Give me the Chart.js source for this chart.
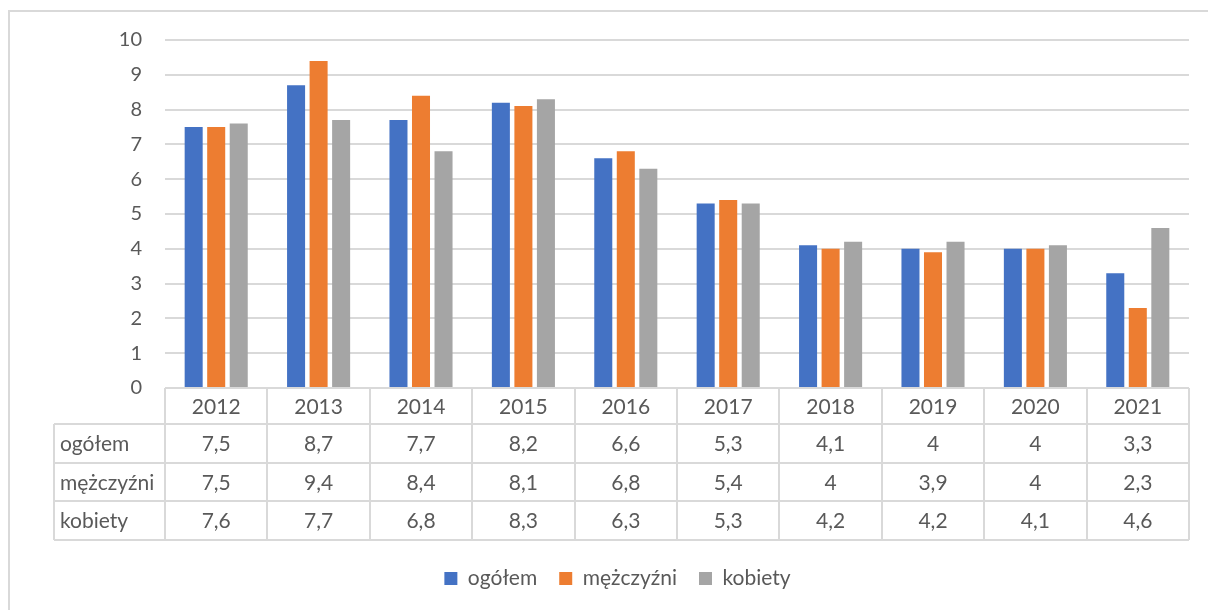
<!DOCTYPE html>
<html>
<head>
<meta charset="utf-8">
<script src="https://cdn.jsdelivr.net/npm/chart.js@4.4.1/dist/chart.umd.min.js"></script>
<style>
html,body{margin:0;padding:0;background:#fff;}
#wrap{width:1208px;height:610px;position:relative;}
</style>
</head>
<body>
<div id="wrap"><canvas id="c" width="1208" height="610"></canvas></div>
<script>
const categories = ['2012','2013','2014','2015','2016','2017','2018','2019','2020','2021'];
const seriesNames = ['ogółem','mężczyźni','kobiety'];
const ogolem = [7.5, 8.7, 7.7, 8.2, 6.6, 5.3, 4.1, 4.0, 4.0, 3.3];
const mezczyzni = [7.5, 9.4, 8.4, 8.1, 6.8, 5.4, 4.0, 3.9, 4.0, 2.3];
const kobiety = [7.6, 7.7, 6.8, 8.3, 6.3, 5.3, 4.2, 4.2, 4.1, 4.6];
const yTicks = [0,1,2,3,4,5,6,7,8,9,10];
const colors = ['#4472C4','#ED7D31','#A5A5A5'];
const seriesValues = [ogolem, mezczyzni, kobiety];

const FONT = 'Lato, "Open Sans", sans-serif';
const TEXT = '#595959';
const LINE = '#d9d9d9';

function fmt(v){ return String(v).replace('.', ','); }

const legendShift = {
  id: 'legendShift',
  afterLayout(chart) {
    if (chart.legend) { chart.legend.left += 23; chart.legend.right += 23; }
  }
};

const tablePlugin = {
  id: 'dataTable',
  afterDraw(chart) {
    const ctx = chart.ctx;
    const xs = chart.scales.x;
    const ca = chart.chartArea;
    const n = categories.length;
    const colW = (ca.right - ca.left) / n;
    const top = ca.bottom;
    const headerH = 36;
    const rowH = 38.5;
    const tableLeft = 54;
    ctx.save();
    ctx.strokeStyle = LINE;
    ctx.lineWidth = 2;
    ctx.beginPath();
    ctx.moveTo(9, 610); ctx.lineTo(9, 11); ctx.lineTo(1208, 11);
    ctx.stroke();
    ctx.beginPath();
    ctx.moveTo(ca.left, top); ctx.lineTo(ca.right, top);
    for (let r = 0; r <= seriesNames.length; r++) {
      const y = Math.round(top + headerH + r * rowH);
      ctx.moveTo(tableLeft, y); ctx.lineTo(ca.right, y);
    }
    const bottom = Math.round(top + headerH + seriesNames.length * rowH);
    ctx.moveTo(tableLeft, top + headerH); ctx.lineTo(tableLeft, bottom);
    for (let i = 0; i <= n; i++) {
      const x = Math.round(xs.getPixelForValue(Math.min(i, n - 1)) + (i === n ? colW / 2 : -colW / 2));
      ctx.moveTo(x, top); ctx.lineTo(x, bottom);
    }
    ctx.stroke();
    ctx.fillStyle = TEXT;
    ctx.font = '21px ' + FONT;
    ctx.textBaseline = 'middle';
    ctx.textAlign = 'center';
    categories.forEach((c, i) => {
      ctx.fillText(c, xs.getPixelForValue(i), top + headerH / 2 + 1);
    });
    seriesNames.forEach((name, r) => {
      const yc = top + headerH + r * rowH + rowH / 2 + 1;
      ctx.textAlign = 'left';
      ctx.fillText(name, 60, yc);
      ctx.textAlign = 'center';
      seriesValues[r].forEach((v, i) => {
        ctx.fillText(fmt(v), xs.getPixelForValue(i), yc);
      });
    });
    ctx.restore();
  }
};

new Chart(document.getElementById('c'), {
  type: 'bar',
  data: {
    labels: categories,
    datasets: seriesNames.map((name, k) => ({
      label: name,
      data: seriesValues[k],
      backgroundColor: colors[k],
      borderWidth: 0,
      categoryPercentage: 0.66,
      barPercentage: 0.8
    }))
  },
  options: {
    responsive: false,
    animation: false,
    layout: { padding: { top: 40, right: 19, left: 0, bottom: 11 } },
    plugins: {
      tooltip: { enabled: false },
      legend: {
        position: 'bottom',
        labels: {
          color: TEXT,
          font: { family: FONT, size: 21 },
          boxWidth: 13,
          boxHeight: 13,
          padding: 22
        }
      }
    },
    scales: {
      x: {
        grid: { display: false, drawTicks: false },
        border: { display: false },
        ticks: { display: false },
        afterFit(scale) { scale.height = 158; }
      },
      y: {
        min: 0, max: 10,
        afterBuildTicks(scale) { scale.ticks = yTicks.map(v => ({ value: v })); },
        grid: { color: LINE, lineWidth: 2, drawTicks: false },
        border: { display: false },
        ticks: { color: TEXT, font: { family: FONT, size: 20 }, padding: 23 },
        afterFit(scale) { scale.width = 165; }
      }
    }
  },
  plugins: [legendShift, tablePlugin]
});
</script>
</body>
</html>
